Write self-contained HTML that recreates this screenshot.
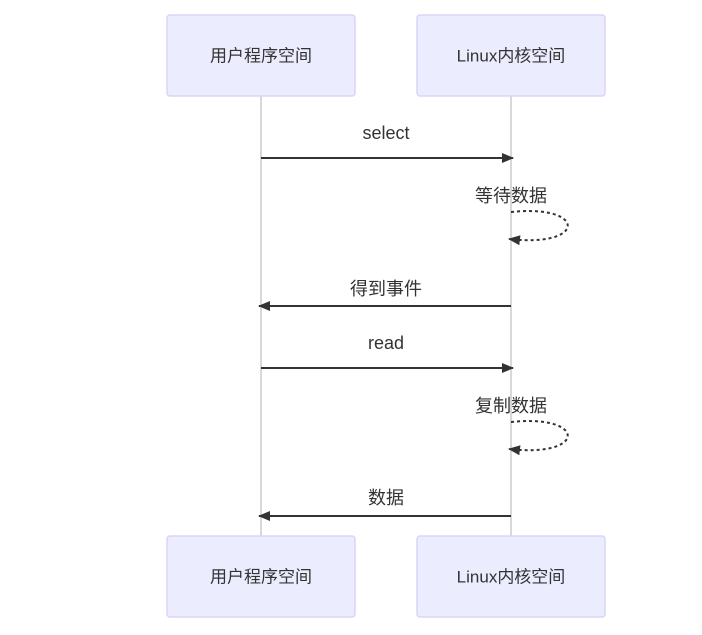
<!DOCTYPE html>
<html><head><meta charset="utf-8"><style>
html,body{margin:0;padding:0;background:#fff;}
svg text{font-family:"Liberation Sans","Noto Sans CJK SC",sans-serif;font-size:17px;fill:#333;}
svg text.m{font-size:18px;}
</style></head><body>
<svg width="702" height="630" viewBox="0 0 702 630" xmlns="http://www.w3.org/2000/svg">
<defs>
<marker id="ah" markerWidth="12" markerHeight="10" refX="11" refY="5" orient="auto" markerUnits="userSpaceOnUse">
<path d="M0,0 L12,5 L0,10 z" fill="#333"/>
</marker>
</defs>
<line x1="261" y1="96" x2="261" y2="536" stroke="#ccc" stroke-width="1.5"/>
<line x1="511" y1="96" x2="511" y2="536" stroke="#ccc" stroke-width="1.5"/>
<g fill="#ECECFF" stroke="#DCD3F7" stroke-width="1.5">
<rect x="167" y="15" width="188" height="81" rx="3"/>
<rect x="417" y="15" width="188" height="81" rx="3"/>
<rect x="167" y="536" width="188" height="81" rx="3"/>
<rect x="417" y="536" width="188" height="81" rx="3"/>
</g>
<g text-anchor="middle" dominant-baseline="central">
<text x="261" y="56">用户程序空间</text>
<text x="511" y="56">Linux内核空间</text>
<text x="261" y="577">用户程序空间</text>
<text x="511" y="577">Linux内核空间</text>
<text class="m" x="386" y="133">select</text>
<text class="m" x="511" y="196">等待数据</text>
<text class="m" x="386" y="289">得到事件</text>
<text class="m" x="386" y="343">read</text>
<text class="m" x="511" y="406">复制数据</text>
<text class="m" x="386" y="498">数据</text>
</g>
<g stroke="#333" stroke-width="2" fill="none">
<line x1="261" y1="158" x2="513" y2="158" marker-end="url(#ah)"/>
<line x1="511" y1="306" x2="259" y2="306" marker-end="url(#ah)"/>
<line x1="261" y1="368" x2="513" y2="368" marker-end="url(#ah)"/>
<line x1="511" y1="516" x2="259" y2="516" marker-end="url(#ah)"/>
<path d="M511,212 C587,204 587,248 509,239" stroke-dasharray="3,3" marker-end="url(#ah)"/>
<path d="M511,422 C587,414 587,458 509,449" stroke-dasharray="3,3" marker-end="url(#ah)"/>
</g>
</svg>
</body></html>
